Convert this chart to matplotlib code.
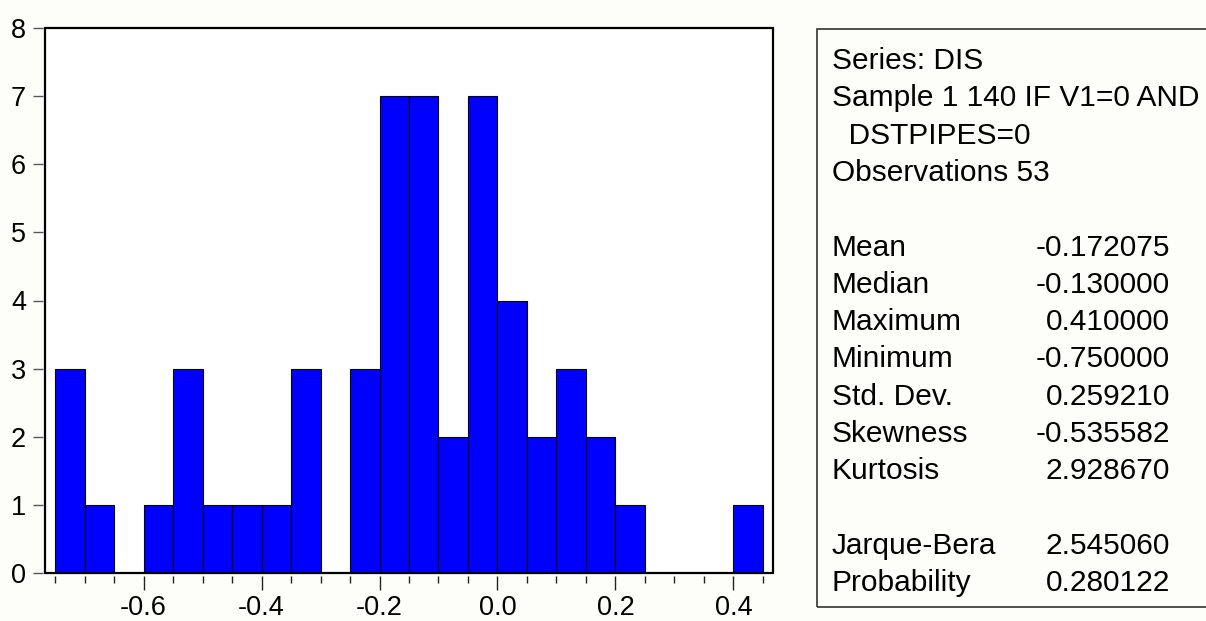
import matplotlib
matplotlib.use("Agg")
import matplotlib.pyplot as plt
from matplotlib.patches import Rectangle
import numpy as np

plt.rcParams['font.family'] = ['Liberation Sans', 'DejaVu Sans']

# ---- data ----
bin_left = [-0.75, -0.70, -0.65, -0.60, -0.55, -0.50, -0.45, -0.40, -0.35, -0.30,
            -0.25, -0.20, -0.15, -0.10, -0.05, 0.00, 0.05, 0.10, 0.15, 0.20,
            0.25, 0.30, 0.35, 0.40]
counts = [3, 1, 0, 1, 3, 1, 1, 1, 3, 0,
          3, 7, 7, 2, 7, 4, 2, 3, 2, 1,
          0, 0, 0, 1]
bin_width = 0.05
x_major = [-0.6, -0.4, -0.2, 0.0, 0.2, 0.4]
x_major_labels = ["-0.6", "-0.4", "-0.2", "0.0", "0.2", "0.4"]
y_ticks = [0, 1, 2, 3, 4, 5, 6, 7, 8]

header_lines = ["Series: DIS", "Sample 1 140 IF V1=0 AND", "  DSTPIPES=0", "Observations 53"]
stat_names = ["Mean", "Median", "Maximum", "Minimum", "Std. Dev.", "Skewness", "Kurtosis"]
stat_values = ["-0.172075", "-0.130000", "0.410000", "-0.750000", "0.259210", "-0.535582", "2.928670"]
test_names = ["Jarque-Bera", "Probability"]
test_values = ["2.545060", "0.280122"]

W, H = 1206, 621
fig = plt.figure(figsize=(W / 100, H / 100), dpi=100, facecolor='#FDFDF9')

def fx(px):
    return px / W

def fy(py):
    return 1 - py / H

ax = fig.add_axes([fx(45), fy(573), fx(773) - fx(45), fy(28) - fy(573)])
ax.set_facecolor('white')

# bars (skip empty bins)
xs = [b for b, c in zip(bin_left, counts) if c > 0]
hs = [c for c in counts if c > 0]
ax.bar(xs, hs, width=bin_width, align='edge', color='#0000FF',
       edgecolor='black', linewidth=0.8, zorder=2)

ax.set_xlim(-0.767, 0.467)
ax.set_ylim(0, 8)

for s in ax.spines.values():
    s.set_visible(False)
ax.spines['bottom'].set_position(('outward', 2))
ax.spines['left'].set_position(('outward', 1.5))
ax.add_patch(Rectangle((0, 0), 1, 1, transform=ax.transAxes, fill=False,
                       edgecolor='black', linewidth=1.6, clip_on=False, zorder=5))

ax.set_xticks(x_major)
ax.set_xticklabels(x_major_labels)
ax.set_xticks(np.arange(-0.75, 0.4501, 0.05), minor=True)
ax.set_yticks(y_ticks)
ax.set_yticklabels([str(v) for v in y_ticks])

ax.tick_params(axis='x', which='major', direction='out', length=10, width=1.0,
               color='#222222', labelsize=19.5, pad=3.5, top=False)
ax.tick_params(axis='x', which='minor', direction='out', length=5, width=1.0,
               color='#222222', top=False)
ax.tick_params(axis='y', which='major', direction='out', length=7.2, width=1.0,
               color='#555555', labelsize=19.5, pad=5, right=False)

# statistics box
fig.patches.append(Rectangle((fx(817), fy(607)), fx(1215) - fx(817), fy(29) - fy(607),
                             transform=fig.transFigure, fill=False,
                             edgecolor='#333333', linewidth=1.2))

fs = 21.5
y0 = 69
step = 37.3
x_lab = 832
x_val = 1170
line = 0
for t in header_lines:
    fig.text(fx(x_lab), fy(y0 + step * line), t, fontsize=fs, va='baseline', ha='left')
    line += 1
line += 1
for n, v in zip(stat_names, stat_values):
    fig.text(fx(x_lab), fy(y0 + step * line), n, fontsize=fs, va='baseline', ha='left')
    fig.text(fx(x_val), fy(y0 + step * line), v, fontsize=fs, va='baseline', ha='right')
    line += 1
line += 1
for n, v in zip(test_names, test_values):
    fig.text(fx(x_lab), fy(y0 + step * line), n, fontsize=fs, va='baseline', ha='left')
    fig.text(fx(x_val), fy(y0 + step * line), v, fontsize=fs, va='baseline', ha='right')
    line += 1

fig.savefig('out.png', dpi=100, facecolor=fig.get_facecolor())
